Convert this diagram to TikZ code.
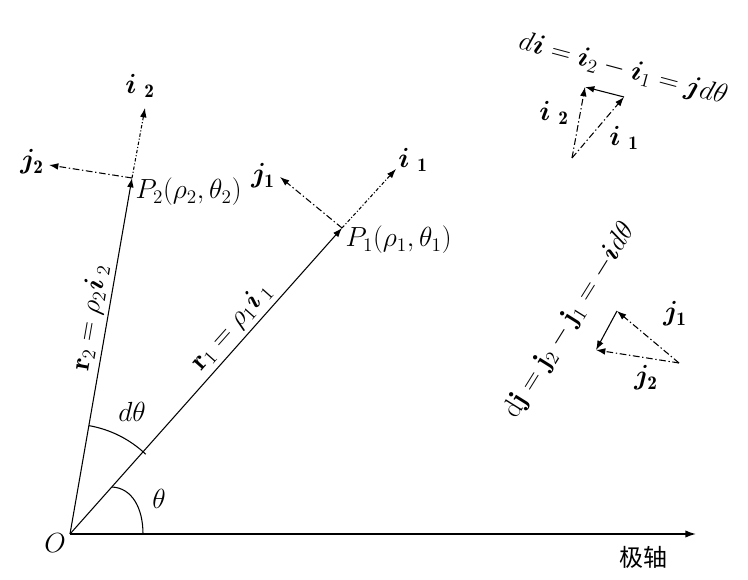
\documentclass[tikz,border=0pt]{standalone}
\usepackage{amsmath,bm}
\usepackage{fontspec}
\newfontfamily\cjk{Noto Sans CJK SC}
\usetikzlibrary{arrows.meta,calc}
\begin{document}
\begin{tikzpicture}[x=0.75pt,y=0.75pt,
  every node/.style={font=\fontsize{20.74}{25}\selectfont, inner sep=1pt},
  vec/.style={line width=0.8pt,-{Latex[length=7pt,width=5pt]}},
  ivec/.style={vec, dash pattern=on 2.5pt off 1.5pt on 0.8pt off 1.5pt},
  jvec/.style={vec, dash pattern=on 5pt off 2pt on 1pt off 2pt},
  arcline/.style={line width=0.8pt},
]
\useasboundingbox (0,0) rectangle (748,580);
% main points
\coordinate (O) at (70,46);
\coordinate (X) at (696,46);
\coordinate (P1) at (342,352);
\coordinate (P2) at (132,402);
\coordinate (I1) at (396,411);
\coordinate (J1) at (280,403);
\coordinate (I2) at (145,472);
\coordinate (J2) at (49,415);
% polar axis
\draw[line width=1.1pt,-{Latex[length=8pt,width=5.5pt]}] (O) -- (X);
\node[font=\fontsize{18}{22}\selectfont] (axislab) at (643,23) {\cjk 极轴};
\node (Olab) at (55,37) {$O$};
% radius vectors
\draw[vec] (O) -- (P1) node[pos=0.64, sloped, above=2pt] (r1lab) {$\mathbf{r}_1=\rho_1\bm{i}\,{}_1$};
\draw[vec] (O) -- (P2) node[pos=0.6, sloped, above=2pt] (r2lab) {$\mathbf{r}_2=\rho_2\bm{i}\,{}_2$};
% unit vectors at P1, P2
\draw[ivec] (P1) -- (I1);
\draw[jvec] (P1) -- (J1);
\draw[ivec] (P2) -- (I2);
\draw[jvec] (P2) -- (J2);
\node[anchor=west] (P1lab) at (344,340) {$P_1(\rho_1,\theta_1)$};
\node[anchor=west] (P2lab) at (134,388) {$P_2(\rho_2,\theta_2)$};
\node (i1lab) at (413,420) {$\bm{i}\;{}_{\mathbf 1}$};
\node (j1lab) at (263,404) {$\bm{j}_{\mathbf 1}$};
\node (i2lab) at (140,494) {$\bm{i}\;{}_{\mathbf 2}$};
\node (j2lab) at (32,418) {$\bm{j}_{\mathbf 2}$};
% angles
\draw[arcline] (112,93) .. controls (132,92) and (143,72) .. (143,46);
\node (thlab) at (159,81) {$\theta$};
\draw[arcline] (O) ++(46.5:110) arc[start angle=46.5, end angle=80.1, radius=110];
\node (dthlab) at (132,168) {$d\theta$};
% small di diagram
\coordinate (Bi) at (572,422);
\coordinate (Ti2) at (585,493);
\coordinate (Ti1) at (624,483);
\draw[jvec] (Bi) -- (Ti2);
\draw[jvec] (Bi) -- (Ti1);
\draw[vec] (Ti1) -- (Ti2);
\node (si2) at (554,467) {$\bm{i}\;{}_{\mathbf 2}$};
\node (si1) at (624,442) {$\bm{i}\;{}_{\mathbf 1}$};
\node[rotate=-15] (dieq) at (623,510) {$d\bm{i}=\bm{i}_2-\bm{i}_1=\bm{j}d\theta$};
% small dj diagram
\coordinate (Bj) at (679,217);
\coordinate (Tj1) at (617,269);
\coordinate (Tj2) at (596,230);
\draw[jvec] (Bj) -- (Tj1);
\draw[jvec] (Bj) -- (Tj2);
\draw[vec] (Tj1) -- (Tj2);
\node (sj1) at (675,266) {$\bm{j}_{\mathbf 1}$};
\node (sj2) at (646,202) {$\bm{j}_{\mathbf 2}$};
\node[rotate=58] (djeq) at (570,259) {$\mathrm{d}\mathbf{j}=\mathbf{j}_2-\mathbf{j}_1=-\bm{i}d\theta$};
\end{tikzpicture}
\end{document}
